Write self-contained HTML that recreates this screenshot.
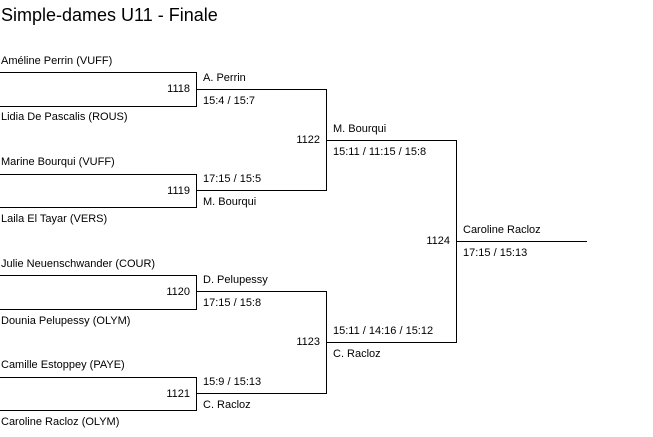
<!DOCTYPE html><html><head><style>
body{margin:0;width:653px;height:437px;background:#fff;position:relative;overflow:hidden;font-family:"Liberation Sans",sans-serif;color:#000}
.h{position:absolute;height:1px;background:#000}
.v{position:absolute;width:1px;background:#000}
.t{position:absolute;font-size:11px;line-height:13px;white-space:nowrap}
.r{text-align:right}
</style></head><body>
<div class="t" style="left:1px;top:4px;font-size:18px;line-height:22px">Simple-dames U11 - Finale</div>

<div class="h" style="left:0;top:72px;width:197px"></div>
<div class="h" style="left:0;top:106px;width:197px"></div>
<div class="v" style="left:196px;top:72px;height:35px"></div>
<div class="h" style="left:196px;top:89px;width:131px"></div>

<div class="h" style="left:0;top:174px;width:197px"></div>
<div class="h" style="left:0;top:207px;width:197px"></div>
<div class="v" style="left:196px;top:174px;height:34px"></div>
<div class="h" style="left:196px;top:190px;width:131px"></div>

<div class="h" style="left:0;top:275px;width:197px"></div>
<div class="h" style="left:0;top:309px;width:197px"></div>
<div class="v" style="left:196px;top:275px;height:35px"></div>
<div class="h" style="left:196px;top:291px;width:131px"></div>

<div class="h" style="left:0;top:377px;width:197px"></div>
<div class="h" style="left:0;top:410px;width:197px"></div>
<div class="v" style="left:196px;top:377px;height:34px"></div>
<div class="h" style="left:196px;top:393px;width:131px"></div>

<div class="v" style="left:326px;top:89px;height:102px"></div>
<div class="h" style="left:326px;top:140px;width:131px"></div>
<div class="v" style="left:326px;top:291px;height:103px"></div>
<div class="h" style="left:326px;top:342px;width:131px"></div>

<div class="v" style="left:456px;top:140px;height:203px"></div>
<div class="h" style="left:456px;top:241px;width:131px"></div>

<div class="t" style="left:1px;top:55px">Améline Perrin (VUFF)</div>
<div class="t" style="left:1px;top:111px">Lidia De Pascalis (ROUS)</div>
<div class="t" style="left:1px;top:156px">Marine Bourqui (VUFF)</div>
<div class="t" style="left:1px;top:213px">Laila El Tayar (VERS)</div>
<div class="t" style="left:1px;top:258px">Julie Neuenschwander (COUR)</div>
<div class="t" style="left:1px;top:315px">Dounia Pelupessy (OLYM)</div>
<div class="t" style="left:1px;top:359px">Camille Estoppey (PAYE)</div>
<div class="t" style="left:1px;top:416px">Caroline Racloz (OLYM)</div>

<div class="t r" style="left:150px;width:40px;top:83px">1118</div>
<div class="t r" style="left:150px;width:40px;top:185px">1119</div>
<div class="t r" style="left:150px;width:40px;top:286px">1120</div>
<div class="t r" style="left:150px;width:40px;top:388px">1121</div>
<div class="t r" style="left:280px;width:40px;top:134px">1122</div>
<div class="t r" style="left:280px;width:40px;top:336px">1123</div>
<div class="t r" style="left:410px;width:40px;top:235px">1124</div>

<div class="t" style="left:203px;top:72px">A. Perrin</div>
<div class="t" style="left:203px;top:95px">15:4 / 15:7</div>
<div class="t" style="left:203px;top:173px">17:15 / 15:5</div>
<div class="t" style="left:203px;top:196px">M. Bourqui</div>
<div class="t" style="left:203px;top:274px">D. Pelupessy</div>
<div class="t" style="left:203px;top:297px">17:15 / 15:8</div>
<div class="t" style="left:203px;top:376px">15:9 / 15:13</div>
<div class="t" style="left:203px;top:399px">C. Racloz</div>
<div class="t" style="left:333px;top:123px">M. Bourqui</div>
<div class="t" style="left:333px;top:146px">15:11 / 11:15 / 15:8</div>
<div class="t" style="left:333px;top:325px">15:11 / 14:16 / 15:12</div>
<div class="t" style="left:333px;top:348px">C. Racloz</div>
<div class="t" style="left:463px;top:224px">Caroline Racloz</div>
<div class="t" style="left:463px;top:247px">17:15 / 15:13</div>
</body></html>
